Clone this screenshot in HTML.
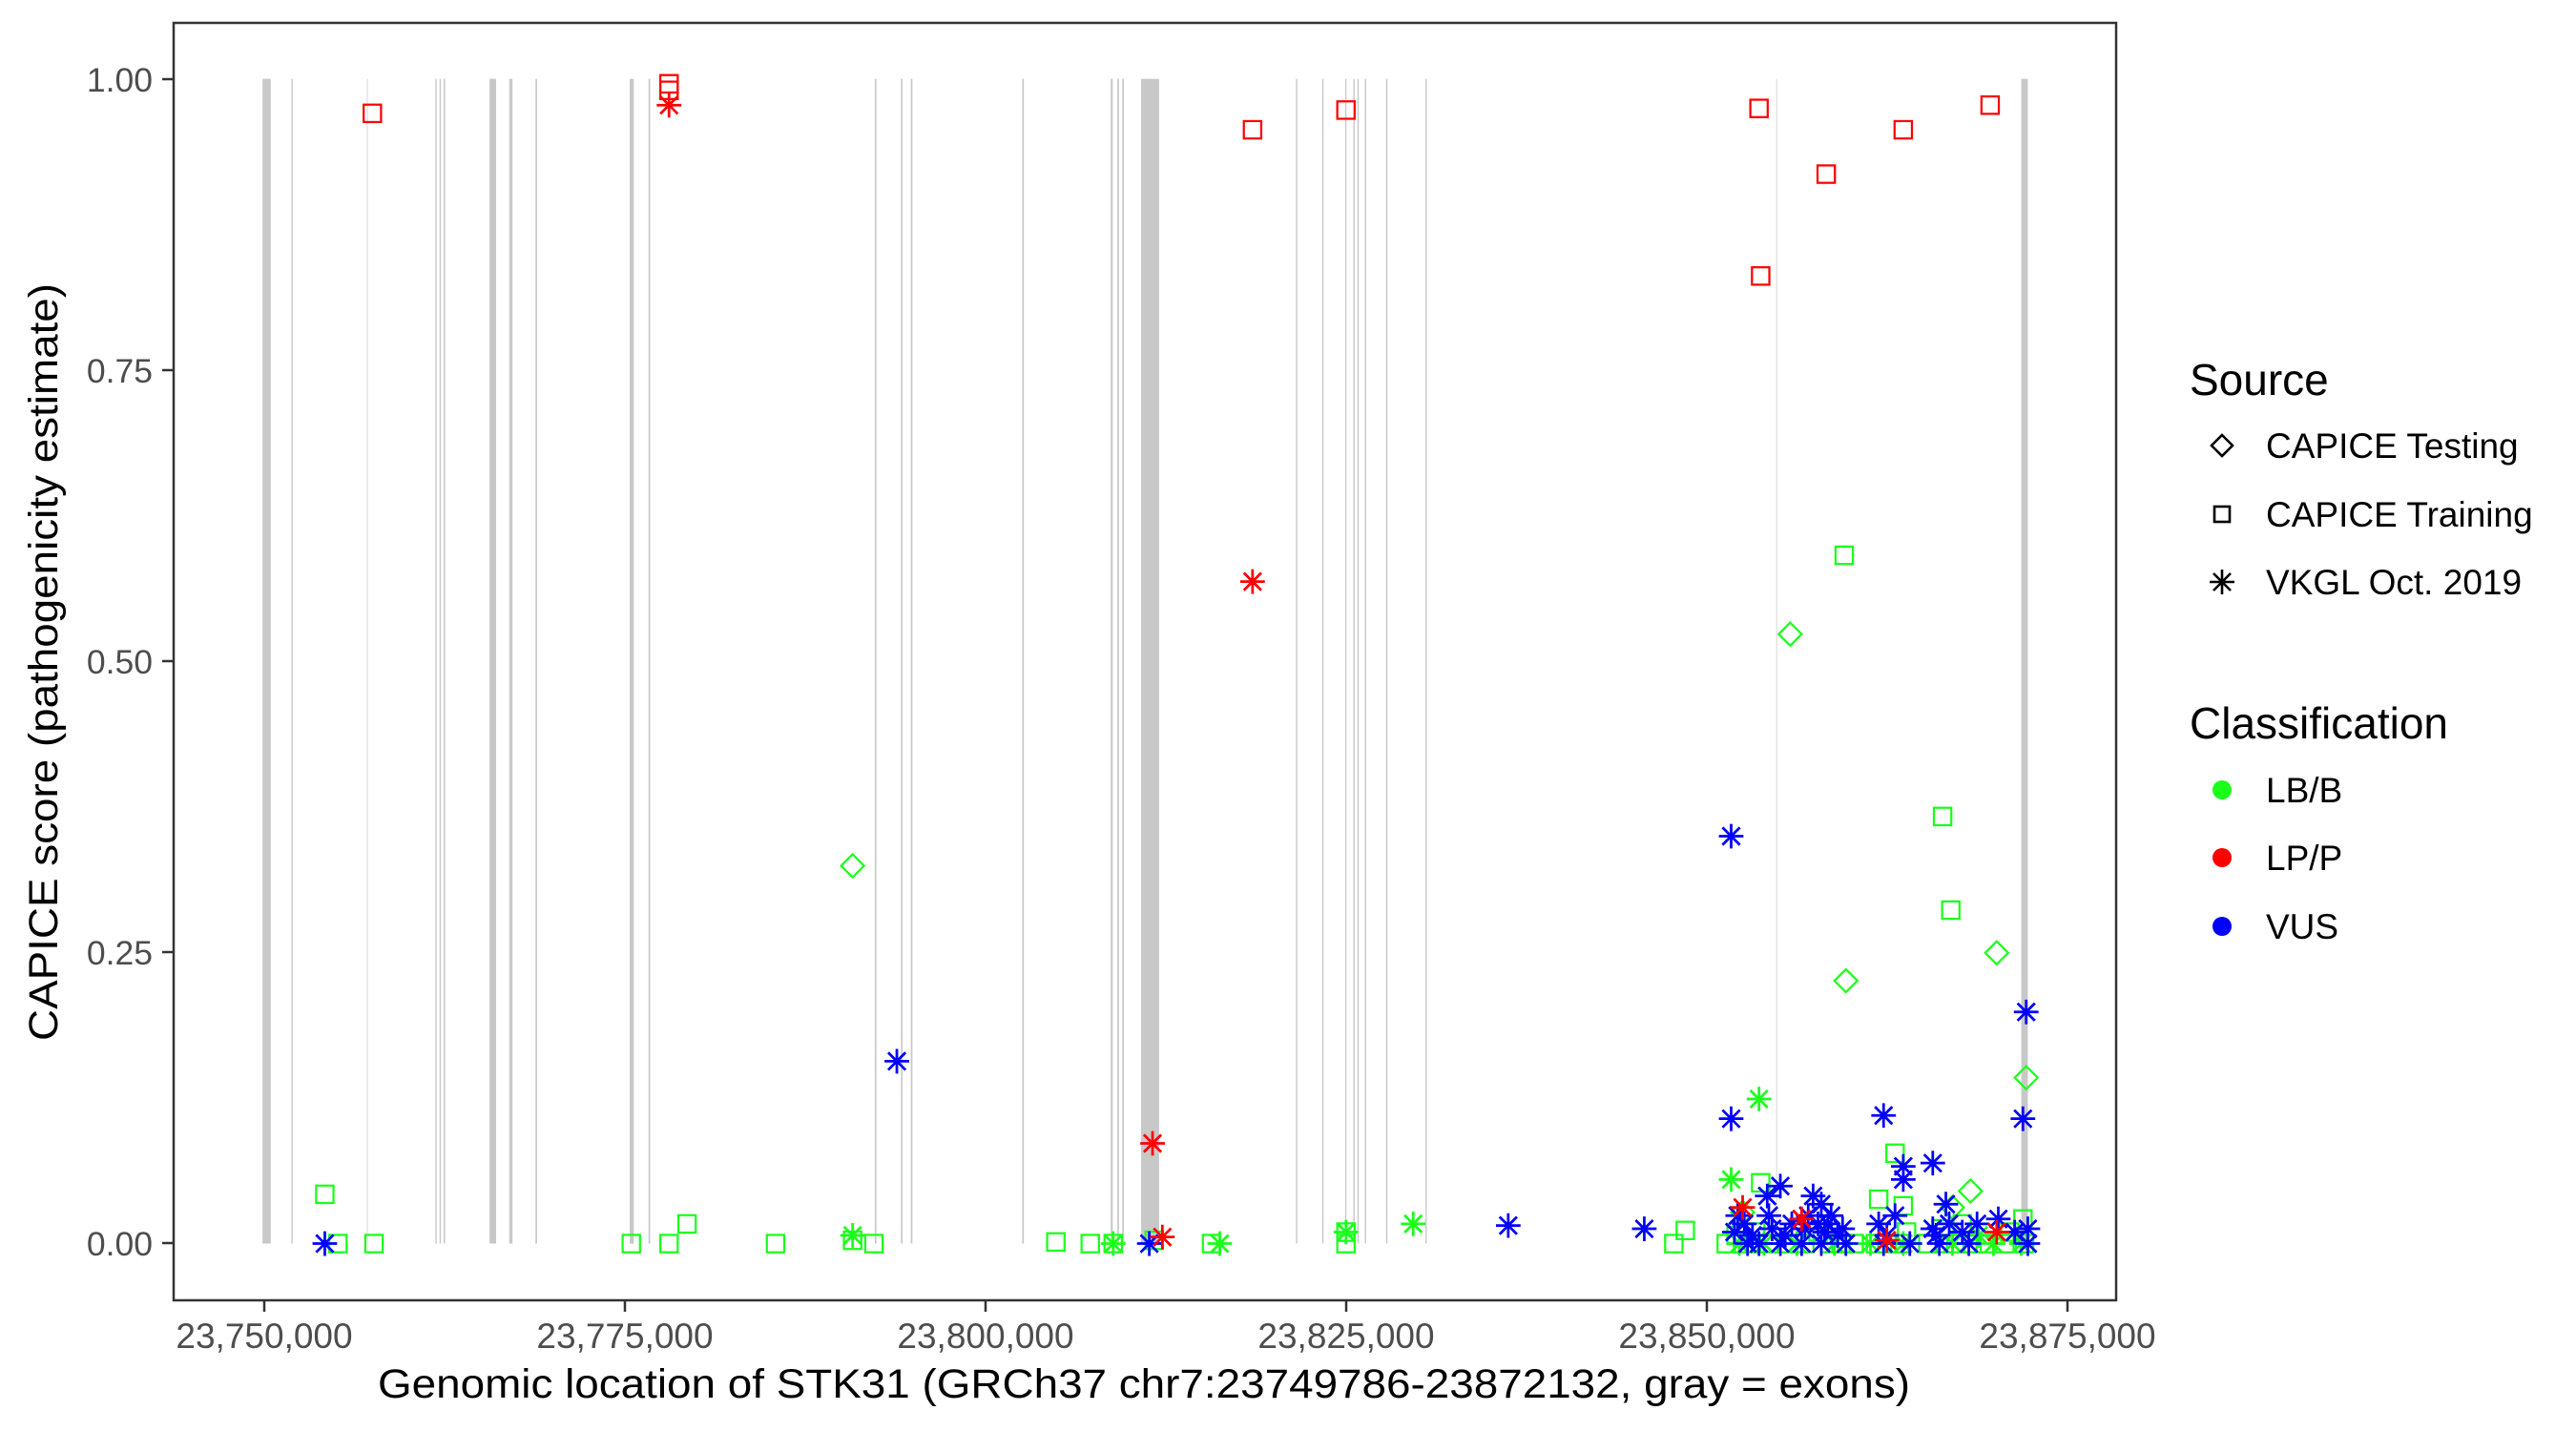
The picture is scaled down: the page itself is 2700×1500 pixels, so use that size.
<!DOCTYPE html>
<html><head><meta charset="utf-8"><style>html,body{margin:0;padding:0;background:#fff}svg{display:block}</style></head>
<body>
<svg width="2700" height="1500" viewBox="0 0 2700 1500" xmlns="http://www.w3.org/2000/svg" font-family="Liberation Sans, Arial, sans-serif">
<defs>
<g id="sq"><rect x="-5.3" y="-5.3" width="10.6" height="10.6" fill="none" stroke="currentColor" stroke-width="1.3"/></g>
<g id="di"><path d="M0,-7 L7,0 L0,7 L-7,0 Z" fill="none" stroke="currentColor" stroke-width="1.3"/></g>
<g id="as" stroke="currentColor" stroke-width="1.6"><path d="M-7.5,0 H7.5 M0,-7.5 V7.5 M-5.3,-5.3 L5.3,5.3 M-5.3,5.3 L5.3,-5.3"/></g>
</defs>
<rect x="182" y="24" width="2036" height="1339" fill="#fff"/>
<g transform="translate(2,0) scale(1.718,1.722)">
<g fill="#c8c8c8">
<rect x="159" y="48" width="5" height="709"/><rect x="176.6" y="48" width="0.8" height="709"/><rect x="222.6" y="48" width="0.7" height="709" fill="#ddd"/>
<rect x="264.5" y="48" width="0.8" height="709"/><rect x="267" y="48" width="0.8" height="709"/><rect x="269.5" y="48" width="0.9" height="709"/>
<rect x="297.5" y="48" width="4" height="709"/><rect x="309.5" y="48" width="2" height="709"/><rect x="325.5" y="48" width="1" height="709"/>
<rect x="383" y="48" width="2.5" height="709"/><rect x="394.5" y="48" width="1" height="709"/>
<rect x="532.5" y="48" width="1" height="709"/><rect x="548.5" y="48" width="1" height="709"/><rect x="554.5" y="48" width="1" height="709"/>
<rect x="622.5" y="48" width="1" height="709"/><rect x="676.5" y="48" width="1.2" height="709"/><rect x="680.5" y="48" width="1" height="709"/><rect x="683.5" y="48" width="1" height="709"/>
<rect x="695" y="48" width="11" height="709"/>
<rect x="789.5" y="48" width="0.8" height="709"/><rect x="805.5" y="48" width="0.8" height="709"/><rect x="819.5" y="48" width="0.8" height="709"/>
<rect x="824.5" y="48" width="0.8" height="709"/><rect x="827" y="48" width="0.8" height="709"/><rect x="831.5" y="48" width="0.8" height="709"/>
<rect x="844.5" y="48" width="0.8" height="709"/><rect x="868.5" y="48" width="0.8" height="709"/>
<rect x="1082.5" y="48" width="0.6" height="709" fill="#d8d8d8"/><rect x="1232" y="48" width="4" height="709"/>
</g>
<g style="color:#1aff1a">
<use href="#sq" x="197" y="727"/><use href="#sq" x="205" y="757"/><use href="#sq" x="227" y="757"/><use href="#sq" x="384" y="757"/><use href="#sq" x="407" y="757"/><use href="#sq" x="418" y="745"/><use href="#sq" x="472" y="757"/><use href="#sq" x="519" y="755"/><use href="#sq" x="532" y="757"/><use href="#sq" x="643" y="756"/><use href="#sq" x="664" y="757"/><use href="#sq" x="678" y="757"/><use href="#sq" x="703" y="755"/><use href="#sq" x="738" y="757"/><use href="#sq" x="820" y="757"/><use href="#sq" x="820" y="750"/><use href="#sq" x="1020" y="757"/><use href="#sq" x="1027" y="749"/><use href="#sq" x="1124" y="338"/><use href="#sq" x="1184" y="497"/><use href="#sq" x="1189" y="554"/><use href="#sq" x="1155" y="702"/><use href="#sq" x="1073" y="720"/><use href="#sq" x="1160" y="734"/><use href="#sq" x="1145" y="730"/><use href="#sq" x="1233" y="742"/>
<use href="#sq" x="1052" y="757"/><use href="#sq" x="1058" y="752"/><use href="#sq" x="1062" y="757"/><use href="#sq" x="1070" y="757"/><use href="#sq" x="1078" y="757"/><use href="#sq" x="1090" y="757"/><use href="#sq" x="1100" y="757"/><use href="#sq" x="1115" y="757"/><use href="#sq" x="1122" y="757"/><use href="#sq" x="1130" y="757"/><use href="#sq" x="1143" y="757"/><use href="#sq" x="1150" y="757"/><use href="#sq" x="1158" y="757"/><use href="#sq" x="1175" y="757"/><use href="#sq" x="1185" y="757"/><use href="#sq" x="1192" y="757"/><use href="#sq" x="1202" y="757"/><use href="#sq" x="1210" y="757"/><use href="#sq" x="1222" y="757"/><use href="#sq" x="1234" y="757"/><use href="#sq" x="1183" y="748"/><use href="#sq" x="1196" y="745"/><use href="#sq" x="1225" y="750"/><use href="#sq" x="1162" y="750"/><use href="#sq" x="1108" y="750"/><use href="#sq" x="1070" y="750"/>
<use href="#di" x="519" y="527"/><use href="#di" x="1091" y="386"/><use href="#di" x="1125" y="597"/><use href="#di" x="1217" y="580"/><use href="#di" x="1235" y="656"/><use href="#di" x="1201" y="725"/><use href="#di" x="1190" y="735"/><use href="#di" x="1062" y="738"/>
<use href="#as" x="519" y="752"/><use href="#as" x="678" y="757"/><use href="#as" x="743" y="757"/><use href="#as" x="820" y="750"/><use href="#as" x="861" y="745"/><use href="#as" x="1072" y="669"/><use href="#as" x="1055" y="718"/><use href="#as" x="1232" y="757"/><use href="#as" x="1060" y="757"/><use href="#as" x="1075" y="757"/><use href="#as" x="1095" y="757"/><use href="#as" x="1118" y="757"/><use href="#as" x="1140" y="757"/><use href="#as" x="1160" y="757"/><use href="#as" x="1190" y="757"/><use href="#as" x="1215" y="757"/><use href="#as" x="1206" y="752"/>
</g>
<g style="color:#0000ff">
<use href="#as" x="197" y="757"/><use href="#as" x="546" y="646"/><use href="#as" x="700" y="757"/><use href="#as" x="919" y="746"/><use href="#as" x="1002" y="748"/><use href="#as" x="1055" y="509"/><use href="#as" x="1055" y="681"/><use href="#as" x="1148" y="679"/><use href="#as" x="1160" y="710"/><use href="#as" x="1160" y="718"/><use href="#as" x="1178" y="708"/><use href="#as" x="1233" y="681"/><use href="#as" x="1235" y="616"/><use href="#as" x="1186" y="733"/><use href="#as" x="1059" y="740"/><use href="#as" x="1085" y="722"/><use href="#as" x="1077" y="728"/><use href="#as" x="1105" y="728"/><use href="#as" x="1110" y="733"/>
<use href="#as" x="1057" y="750"/><use href="#as" x="1063" y="745"/><use href="#as" x="1068" y="752"/><use href="#as" x="1072" y="757"/><use href="#as" x="1080" y="748"/><use href="#as" x="1088" y="752"/><use href="#as" x="1092" y="745"/><use href="#as" x="1098" y="757"/><use href="#as" x="1102" y="740"/><use href="#as" x="1108" y="745"/><use href="#as" x="1112" y="750"/><use href="#as" x="1116" y="740"/><use href="#as" x="1120" y="752"/><use href="#as" x="1125" y="757"/><use href="#as" x="1145" y="745"/><use href="#as" x="1150" y="752"/><use href="#as" x="1155" y="740"/><use href="#as" x="1164" y="757"/><use href="#as" x="1178" y="748"/><use href="#as" x="1182" y="757"/><use href="#as" x="1188" y="745"/><use href="#as" x="1196" y="750"/><use href="#as" x="1200" y="757"/><use href="#as" x="1205" y="745"/><use href="#as" x="1218" y="742"/><use href="#as" x="1228" y="750"/><use href="#as" x="1236" y="757"/><use href="#as" x="1236" y="748"/><use href="#as" x="1180" y="752"/><use href="#as" x="1065" y="757"/><use href="#as" x="1085" y="757"/><use href="#as" x="1110" y="757"/><use href="#as" x="1148" y="757"/><use href="#as" x="1100" y="748"/><use href="#as" x="1114" y="745"/><use href="#as" x="1123" y="748"/><use href="#as" x="1078" y="740"/>
</g>
<g style="color:#ff0000">
<use href="#sq" x="226" y="69"/><use href="#sq" x="407" y="51"/><use href="#sq" x="407" y="55"/><use href="#sq" x="763" y="79"/><use href="#sq" x="820" y="67"/><use href="#sq" x="1072" y="66"/><use href="#sq" x="1113" y="106"/><use href="#sq" x="1160" y="79"/><use href="#sq" x="1213" y="64"/><use href="#sq" x="1073" y="168"/>
<use href="#as" x="407" y="64"/><use href="#as" x="763" y="354"/><use href="#as" x="702" y="696"/><use href="#as" x="708" y="753"/><use href="#as" x="1062" y="735"/><use href="#as" x="1217" y="750"/><use href="#as" x="1098" y="742"/><use href="#as" x="1150" y="755"/>
</g>
</g>
<rect x="182" y="24" width="2036" height="1339" fill="none" stroke="#333" stroke-width="2.5"/>
<g stroke="#333" stroke-width="2.5">
<path d="M170,83 H182 M170,388 H182 M170,693 H182 M170,998 H182 M170,1303 H182"/>
<path d="M277,1363 V1375 M655,1363 V1375 M1033,1363 V1375 M1411,1363 V1375 M1789,1363 V1375 M2167,1363 V1375"/>
</g>
<g font-size="35.5" fill="#4d4d4d" text-anchor="end">
<text x="160" y="96">1.00</text><text x="160" y="401">0.75</text><text x="160" y="706">0.50</text><text x="160" y="1011">0.25</text><text x="160" y="1316">0.00</text>
</g>
<g font-size="37" fill="#4d4d4d" text-anchor="middle">
<text x="277" y="1413">23,750,000</text><text x="655" y="1413">23,775,000</text><text x="1033" y="1413">23,800,000</text><text x="1411" y="1413">23,825,000</text><text x="1789" y="1413">23,850,000</text><text x="2167" y="1413">23,875,000</text>
</g>
<text x="1199" y="1465" font-size="43" text-anchor="middle" textLength="1606" lengthAdjust="spacingAndGlyphs">Genomic location of STK31 (GRCh37 chr7:23749786-23872132, gray = exons)</text>
<text transform="translate(60,694) rotate(-90)" font-size="43" text-anchor="middle" textLength="794" lengthAdjust="spacingAndGlyphs">CAPICE score (pathogenicity estimate)</text>
<g font-size="46"><text x="2295" y="414">Source</text><text x="2295" y="774">Classification</text></g>
<g font-size="37"><text x="2375" y="480">CAPICE Testing</text><text x="2375" y="552">CAPICE Training</text><text x="2375" y="623">VKGL Oct. 2019</text><text x="2375" y="841">LB/B</text><text x="2375" y="912">LP/P</text><text x="2375" y="984">VUS</text></g>
<g fill="none" stroke="#000" stroke-width="2.6">
<path d="M2329,456 L2340,467 L2329,478 L2318,467 Z"/>
<rect x="2321" y="531" width="16" height="16"/>
<path d="M2316,610 H2342 M2329,597 V623 M2320,601 L2338,619 M2320,619 L2338,601"/>
</g>
<circle cx="2329" cy="828" r="10" fill="#1aff1a"/><circle cx="2329" cy="899" r="10" fill="#ff0000"/><circle cx="2329" cy="971" r="10" fill="#0000ff"/>
</svg>
</body></html>
